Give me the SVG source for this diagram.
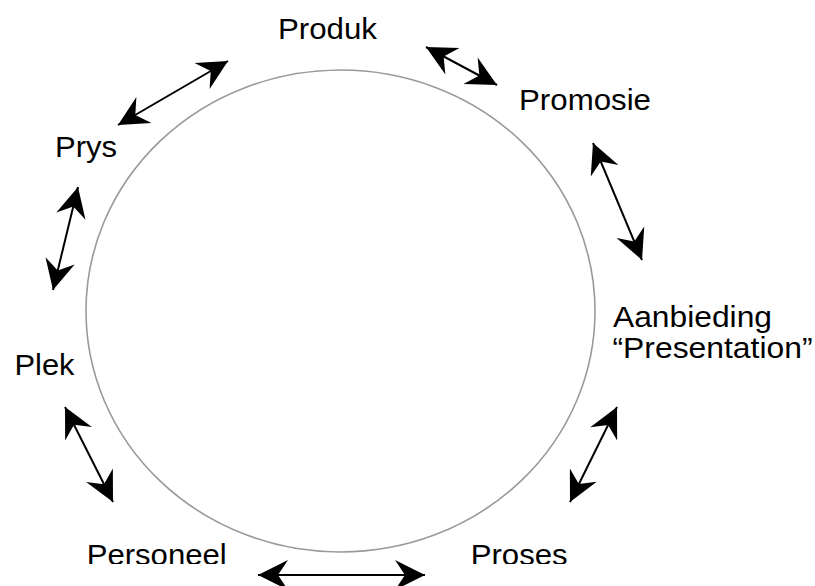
<svg xmlns="http://www.w3.org/2000/svg" width="815" height="586" viewBox="0 0 815 586">
<style>
text{font-family:"Liberation Sans",Arial,sans-serif;font-size:29px;fill:#000}
.c{fill:none;stroke:#999;stroke-width:1.6}
.a{stroke:#000;stroke-width:2;fill:none;marker-start:url(#h);marker-end:url(#h)}
</style>
<defs>
<marker id="h" markerUnits="userSpaceOnUse" viewBox="-32 -16 33 32" markerWidth="33" markerHeight="32" refX="0" refY="0" orient="auto-start-reverse">
<path d="M0,0 L-30,-15 L-20,0 L-30,15 Z" fill="#000"/>
</marker>
<clipPath id="cut"><rect x="0" y="0" width="815" height="564"/></clipPath>
</defs>
<rect width="815" height="586" fill="#fff"/>
<g id="ring"><ellipse class="c" cx="340.5" cy="311" rx="254.5" ry="241"/></g>
<g id="produk"><text x="278" y="39" textLength="99" lengthAdjust="spacingAndGlyphs">Produk</text></g>
<g id="promosie"><text x="519" y="110" textLength="132" lengthAdjust="spacingAndGlyphs">Promosie</text></g>
<g id="aanbieding"><text x="613" y="326.7" textLength="159" lengthAdjust="spacingAndGlyphs">Aanbieding</text><text x="612.5" y="358.3" textLength="200" lengthAdjust="spacingAndGlyphs">“Presentation”</text></g>
<g id="prys"><text x="55" y="157" textLength="62" lengthAdjust="spacingAndGlyphs">Prys</text></g>
<g id="plek"><text x="14.5" y="375" textLength="60" lengthAdjust="spacingAndGlyphs">Plek</text></g>
<g id="personeel" clip-path="url(#cut)"><text x="86.7" y="565" textLength="140" lengthAdjust="spacingAndGlyphs">Personeel</text></g>
<g id="proses" clip-path="url(#cut)"><text x="470.7" y="565" textLength="97" lengthAdjust="spacingAndGlyphs">Proses</text></g>
<g id="connectors">
<line class="a" x1="118" y1="125" x2="228" y2="61"/>
<line class="a" x1="426" y1="47" x2="497" y2="85"/>
<line class="a" x1="593" y1="143" x2="642" y2="260"/>
<line class="a" x1="78" y1="187" x2="53" y2="290"/>
<line class="a" x1="65" y1="407" x2="113" y2="502"/>
<line class="a" x1="617" y1="407" x2="570" y2="502"/>
<line class="a" x1="258" y1="575" x2="425" y2="575"/>
</g>
</svg>
